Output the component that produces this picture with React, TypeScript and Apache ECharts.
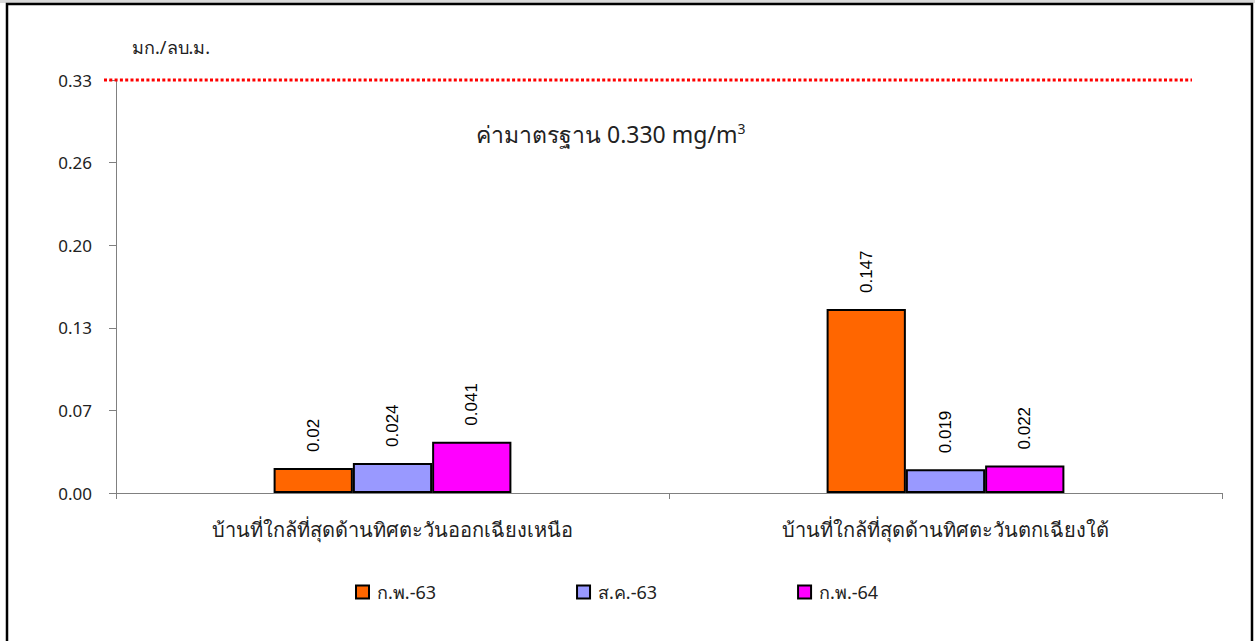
import React, { useEffect, useRef } from "react";
import * as echarts from "echarts";

const categories = [
  "บ้านที่ใกล้ที่สุดด้านทิศตะวันออกเฉียงเหนือ",
  "บ้านที่ใกล้ที่สุดด้านทิศตะวันตกเฉียงใต้",
];
const seriesNames = ["ก.พ.-63", "ส.ค.-63", "ก.พ.-64"];
const seriesColors = ["#FF6600", "#9999FF", "#FF00FF"];
const feb63 = [0.02, 0.147];
const aug63 = [0.024, 0.019];
const feb64 = [0.041, 0.022];
const standardValue = 0.33;
const yTicks = [0, 0.066, 0.132, 0.198, 0.264, 0.33];
const unitLabel = "มก./ลบ.ม.";

export default function App() {
  const ref = useRef<HTMLDivElement>(null);
  useEffect(() => {
    if (!ref.current) return;
    const chart = echarts.init(ref.current, null, { renderer: "svg" });
    const values = [feb63, aug63, feb64];
    const font = "'Noto Sans', sans-serif";
    const baseGraphic = [
      { type: "rect", left: 0, top: 0, shape: { width: 1255, height: 3 }, style: { fill: "#d9d9d9" }, silent: true },
      {
        type: "rect",
        shape: { x: 7, y: 4, width: 1245, height: 660 },
        style: { fill: "none", stroke: "#000", lineWidth: 2.5 },
        silent: true,
      },
      {
        type: "text",
        left: 476,
        top: 121,
        style: {
          text: "ค่ามาตรฐาน 0.330 mg/m{sup|3}",
          fontFamily: font,
          fontSize: 23,
          fill: "#222",
          rich: { sup: { fontSize: 14, verticalAlign: "top", padding: [0, 0, 12, 0], fontFamily: font, fill: "#222" } },
        },
      },
    ];
    chart.setOption({
      animation: false,
      backgroundColor: "#ffffff",
      grid: { left: 116, right: 33, top: 80, bottom: 148 },
      legend: {
        bottom: 40,
        left: 355,
        padding: 0,
        itemGap: 140,
        itemWidth: 13,
        itemHeight: 13,
        icon: "rect",
        itemStyle: { borderColor: "#000", borderWidth: 2 },
        textStyle: { fontFamily: font, fontSize: 18, color: "#222", padding: [0, 0, 0, 3] },
        data: seriesNames,
      },
      xAxis: {
        type: "category",
        data: categories,
        axisLine: { lineStyle: { color: "#808080", width: 1 } },
        axisTick: { show: true, length: 6, lineStyle: { color: "#808080" } },
        axisLabel: { fontFamily: font, fontSize: 20, color: "#222", margin: 26 },
      },
      yAxis: {
        type: "value",
        min: 0,
        max: standardValue,
        interval: yTicks[1],
        name: unitLabel,
        nameLocation: "end",
        nameGap: 24,
        nameTextStyle: { fontFamily: font, fontSize: 18, color: "#222", align: "left", padding: [0, 0, 0, 16] },
        axisLine: { show: true, lineStyle: { color: "#808080", width: 1 } },
        axisTick: { show: true, length: 7, lineStyle: { color: "#808080" } },
        splitLine: { show: false },
        axisLabel: {
          fontFamily: font,
          fontSize: 17,
          color: "#222",
          margin: 24,
          formatter: (v: number) => v.toFixed(2),
        },
      },
      series: values.map((d, i) => ({
        name: seriesNames[i],
        type: "bar",
        data: d,
        barGap: "0%",
        barCategoryGap: "57%",
        itemStyle: { color: seriesColors[i], borderColor: "#000", borderWidth: 2 },
        label: {
          show: true,
          position: "top",
          rotate: 90,
          align: "left",
          verticalAlign: "middle",
          distance: 16,
          fontFamily: "'Liberation Sans', Arial, sans-serif",
          fontSize: 17,
          color: "#000",
          formatter: (p: any) => String(p.value),
        },
      })),
      graphic: baseGraphic,
    });
    const yPix = chart.convertToPixel({ yAxisIndex: 0 }, standardValue) as number;
    chart.setOption({
      graphic: [
        ...baseGraphic,
        {
          type: "line",
          shape: { x1: 104, y1: yPix, x2: 1192, y2: yPix },
          style: { stroke: "#FF0000", lineWidth: 3, lineDash: [3, 2.3] },
          silent: true,
          z: 10,
        },
      ],
    }, { replaceMerge: ["graphic"] });
    return () => chart.dispose();
  }, []);
  return <div ref={ref} style={{ position: "absolute", left: 0, top: 0, width: 1255, height: 641 }} />;
}
